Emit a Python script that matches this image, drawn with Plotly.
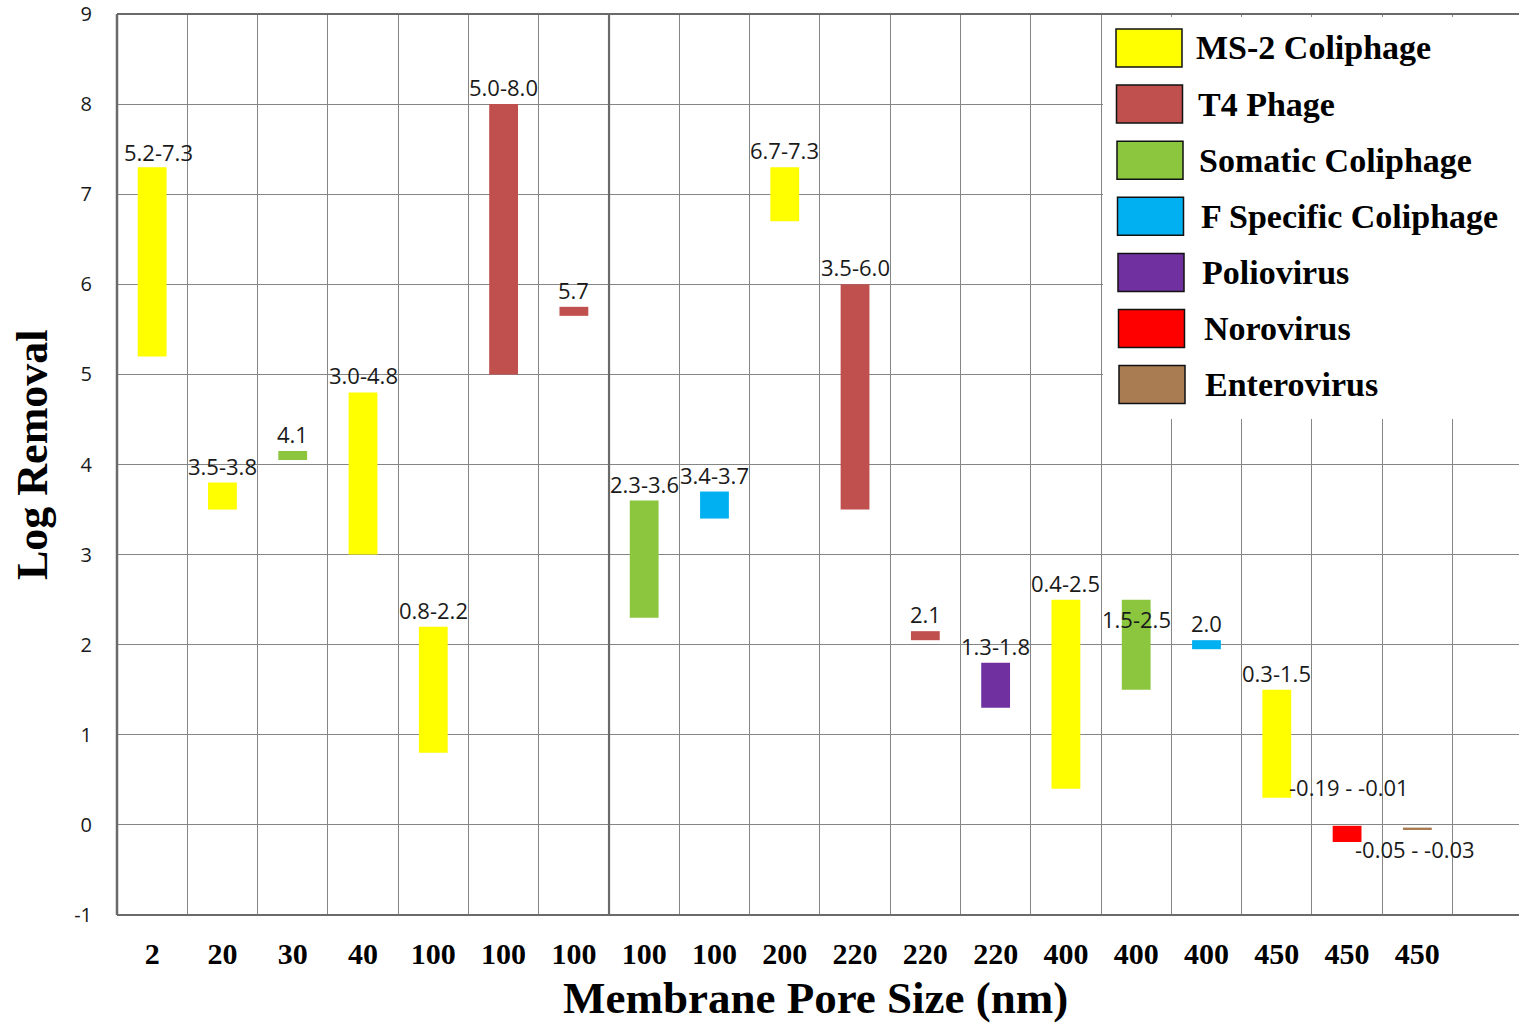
import plotly.graph_objects as go

# ---- data -------------------------------------------------------------
pore_sizes = ["2", "20", "30", "40", "100", "100", "100", "100", "100", "200",
              "220", "220", "220", "400", "400", "400", "450", "450", "450"]
organisms = ["MS-2 Coliphage", "MS-2 Coliphage", "Somatic Coliphage", "MS-2 Coliphage",
             "MS-2 Coliphage", "T4 Phage", "T4 Phage", "Somatic Coliphage",
             "F Specific Coliphage", "MS-2 Coliphage", "T4 Phage", "T4 Phage",
             "Poliovirus", "MS-2 Coliphage", "Somatic Coliphage", "F Specific Coliphage",
             "MS-2 Coliphage", "Norovirus", "Enterovirus"]
log_low = [5.2, 3.5, 4.1, 3.0, 0.8, 5.0, 5.7, 2.3, 3.4, 6.7, 3.5, 2.1, 1.3, 0.4,
           1.5, 2.0, 0.3, -0.19, -0.05]
log_high = [7.3, 3.8, 4.1, 4.8, 2.2, 8.0, 5.7, 3.6, 3.7, 7.3, 6.0, 2.1, 1.8, 2.5,
            2.5, 2.0, 1.5, -0.01, -0.03]

series_names = ["MS-2 Coliphage", "T4 Phage", "Somatic Coliphage", "F Specific Coliphage",
                "Poliovirus", "Norovirus", "Enterovirus"]
series_colors = ["#FFFF00", "#C0504D", "#8CC63F", "#00B0F0", "#7030A0", "#FF0000", "#A97C52"]

y_ticks = [-1, 0, 1, 2, 3, 4, 5, 6, 7, 8, 9]

# ---- styling ----------------------------------------------------------
W, H = 1519, 1027
M_L, M_R, M_T, M_B = 117, 0, 14, 112
PLOT_W = W - M_L - M_R
PLOT_H = H - M_T - M_B
GRID = "#858585"
FRAME = "#6a6a6a"
BAR_WIDTH = 0.41
POINT_THICKNESS = 0.1          # drawn height of single-value results
LABEL_FONT = dict(family="Open Sans", size=22, color="#1a1a1a")
SERIF_BOLD = "Liberation Serif"
N_SLOTS = PLOT_W / 70.29       # category slots across the plotting area

# label nudges (dx, dy in px) for crowded labels
label_nudge = {0: (6, -2), 14: (0, -36), 17: (2, 22), 18: (-2, -38)}


def fmt(v):
    return f"{v:.1f}" if round(v, 1) == v else f"{v:.2f}"


def px_x(px):
    return (px - M_L) / PLOT_W


def px_y(py):
    return (H - M_B - py) / PLOT_H


# bar extents
bar_base, bar_span, labels = [], [], []
for lo, hi in zip(log_low, log_high):
    if lo == hi:
        bar_base.append(lo - POINT_THICKNESS / 2)
        bar_span.append(POINT_THICKNESS)
        labels.append(fmt(lo))
    else:
        bar_base.append(lo)
        bar_span.append(hi - lo)
        labels.append(f"{fmt(lo)} - {fmt(hi)}" if lo < 0 else f"{fmt(lo)}-{fmt(hi)}")

fig = go.Figure()
for name, color in zip(series_names, series_colors):
    idx = [i for i, o in enumerate(organisms) if o == name]
    fig.add_trace(go.Bar(
        x=idx,
        y=[bar_span[i] for i in idx],
        base=[bar_base[i] for i in idx],
        width=BAR_WIDTH,
        name=name,
        marker=dict(color=color, line=dict(width=0)),
        showlegend=False,
    ))

# range labels above each bar
for i, text in enumerate(labels):
    dx, dy = label_nudge.get(i, (0, 0))
    fig.add_annotation(
        x=i, y=bar_base[i] + bar_span[i], text=text, showarrow=False,
        xanchor="center", yanchor="bottom", xshift=dx, yshift=dy,
        font=LABEL_FONT,
    )

shapes = []
# plot frame: left, bottom and the central divider
shapes.append(dict(type="line", xref="paper", yref="paper", x0=0, x1=0, y0=0, y1=1,
                   line=dict(color=FRAME, width=2.5), layer="above"))
shapes.append(dict(type="line", xref="paper", yref="paper", x0=0, x1=1, y0=0, y1=0,
                   line=dict(color=FRAME, width=2), layer="above"))
shapes.append(dict(type="line", xref="x", yref="paper", x0=6.5, x1=6.5, y0=0, y1=1,
                   line=dict(color=FRAME, width=2.2), layer="above"))

# legend panel
shapes.append(dict(type="rect", xref="paper", yref="paper",
                   x0=px_x(1103), x1=1.01, y0=px_y(419), y1=px_y(17),
                   fillcolor="white", line=dict(width=0), layer="above"))
shapes.append(dict(type="line", xref="paper", yref="paper", x0=0, x1=1, y0=1, y1=1,
                   line=dict(color=FRAME, width=2), layer="above"))

annotations = []
for k, (name, color) in enumerate(zip(series_names, series_colors)):
    cy = 48 + k * 56.1
    sx0 = 1116 + k * 0.5
    shapes.append(dict(type="rect", xref="paper", yref="paper",
                       x0=px_x(sx0), x1=px_x(sx0 + 66), y0=px_y(cy + 19), y1=px_y(cy - 19),
                       fillcolor=color, line=dict(color="#111111", width=1.5), layer="above"))
    annotations.append(dict(xref="paper", yref="paper", x=px_x(1194 + k * 1.5), y=px_y(cy),
                            text=name, showarrow=False, xanchor="left", yanchor="middle",
                            font=dict(family=SERIF_BOLD, size=34, color="black", weight="bold")))

# axis titles
annotations.append(dict(xref="paper", yref="paper", x=px_x(815), y=px_y(998),
                        text="Membrane Pore Size (nm)", showarrow=False,
                        xanchor="center", yanchor="middle",
                        font=dict(family=SERIF_BOLD, size=45, color="black", weight="bold")))
annotations.append(dict(xref="paper", yref="paper", x=px_x(32), y=px_y(455),
                        text="Log Removal", showarrow=False, textangle=-90,
                        xanchor="center", yanchor="middle",
                        font=dict(family=SERIF_BOLD, size=44, color="black", weight="bold")))

for a in annotations:
    fig.add_annotation(**a)

fig.update_layout(
    width=W, height=H,
    margin=dict(l=M_L, r=M_R, t=M_T, b=M_B, pad=0),
    paper_bgcolor="white", plot_bgcolor="white",
    barmode="overlay",
    shapes=shapes,
    xaxis=dict(
        range=[-0.5, -0.5 + N_SLOTS],
        tickmode="array", tickvals=list(range(len(pore_sizes))), ticktext=pore_sizes,
        showgrid=False, zeroline=False, showline=False, ticks="",
        ticklabelstandoff=18,
        tickfont=dict(family=SERIF_BOLD, size=30, color="black", weight="bold"),
        minor=dict(tickmode="array", tickvals=[k - 0.5 for k in range(1, 21)],
                   showgrid=True, gridcolor=GRID, gridwidth=1.3, ticks=""),
    ),
    yaxis=dict(
        range=[-1, 9],
        tickmode="array", tickvals=y_ticks, ticktext=[str(v) for v in y_ticks],
        showgrid=True, gridcolor=GRID, gridwidth=1.3,
        zeroline=False, showline=False, ticks="",
        ticklabelstandoff=24,
        tickfont=dict(family="Open Sans", size=20, color="#1a1a1a"),
    ),
)

fig.write_html("out.html")
